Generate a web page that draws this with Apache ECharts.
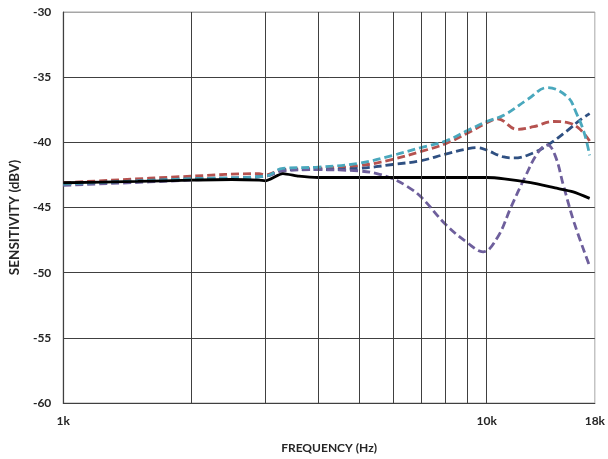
<!DOCTYPE html>
<html><head><meta charset="utf-8">
<script src="https://cdn.jsdelivr.net/npm/echarts@6/dist/echarts.min.js"></script>
<style>html,body{margin:0;padding:0;background:#fff}#c{width:608px;height:459px}</style>
</head><body><div id="c"></div>
<script>
// Data
const freqBlack = [1000, 1500, 2000, 2500, 2900, 3000, 3300, 3600, 4000, 5000, 7000, 10000, 11000, 12700, 14500, 16000, 17500];
const valBlack  = [-43.1, -43.0, -42.9, -42.85, -42.9, -42.95, -42.4, -42.6, -42.7, -42.7, -42.7, -42.7, -42.8, -43.1, -43.5, -43.8, -44.3];

const freqRed = [1000, 2000, 2900, 3000, 3300, 4000, 5000, 6000, 7000, 8000, 9000, 10000, 10600, 11800, 12900, 14400, 15600, 16600, 17500];
const valRed  = [-43.1, -42.6, -42.4, -42.5, -42.1, -42.0, -41.8, -41.3, -40.7, -40.1, -39.3, -38.5, -38.2, -39.0, -38.8, -38.4, -38.5, -39.0, -39.9];

const freqTeal = [1000, 2000, 3000, 3300, 4000, 5000, 6000, 7000, 8000, 9000, 10000, 11000, 12500, 13900, 15500, 16300, 17000, 17500];
const valTeal  = [-43.2, -42.8, -42.6, -42.0, -41.9, -41.6, -41.0, -40.4, -39.9, -39.1, -38.4, -37.9, -36.7, -35.8, -36.5, -37.8, -39.3, -41.0];

const freqNavy = [1000, 2000, 3000, 3300, 4000, 5000, 6000, 7000, 8000, 9000, 9500, 10000, 10900, 11600, 12900, 14100, 15500, 16600, 17500];
const valNavy  = [-43.2, -42.8, -42.6, -42.1, -42.1, -42.0, -41.7, -41.4, -40.9, -40.5, -40.4, -40.6, -41.1, -41.2, -40.8, -40.1, -39.1, -38.3, -37.8];

const freqPurple = [1000, 2000, 3000, 3300, 4000, 5000, 5500, 6000, 6500, 7000, 8000, 9000, 9800, 10600, 11400, 12300, 13200, 13900, 14500, 15200, 16100, 17500];
const valPurple  = [-43.3, -42.9, -42.6, -42.2, -42.1, -42.2, -42.4, -42.8, -43.4, -44.2, -46.3, -47.7, -48.4, -47.3, -45.0, -42.7, -40.8, -40.2, -41.0, -43.4, -46.2, -49.5];

const xLabelValues = [1000, 10000, 18000];
const xLabelTexts = {1000: '1k', 10000: '10k', 18000: '18k'};
const xGridValues = [2000, 3000, 4000, 5000, 6000, 7000, 8000, 9000, 10000];

const zip = (f, v) => f.map((x, i) => [x, v[i]]);
const font = 'Lato, "Open Sans", sans-serif';
const dash = [8, 4];

function dashed(name, f, v, color) {
  return {
    name, type: 'line', data: zip(f, v), showSymbol: false, smooth: 0.4,
    lineStyle: { color, width: 2.8, type: dash }, z: 3
  };
}

const chart = echarts.init(document.getElementById('c'));
chart.setOption({
  animation: false,
  grid: { left: 62, right: 10, top: 12, bottom: 56, show: true, borderColor: '#a6a6a6', borderWidth: 1 },
  xAxis: {
    type: 'log', logBase: 10, min: 1000, max: 18000,
    name: 'FREQUENCY (Hz)', nameLocation: 'middle', nameGap: 39,
    nameTextStyle: { fontFamily: font, fontWeight: 'bold', fontSize: 12, color: '#262626' },
    axisLine: { show: true, lineStyle: { color: '#404040', width: 1.2 } },
    axisTick: { show: false },
    splitLine: { show: false },
    axisLabel: {
      customValues: xLabelValues,
      formatter: v => xLabelTexts[Math.round(v)] || '',
      fontFamily: font, fontWeight: 'bold', fontSize: 12, color: '#262626', margin: 12,
      showMaxLabel: true, showMinLabel: true
    }
  },
  yAxis: {
    type: 'value', min: -60, max: -30, interval: 5,
    name: 'SENSITIVITY (dBV)', nameLocation: 'middle', nameGap: 38,
    nameTextStyle: { fontFamily: font, fontWeight: 'bold', fontSize: 13.5, color: '#262626', padding: [0, 20, 0, 0] },
    axisLine: { show: true, lineStyle: { color: '#404040', width: 1.2 } },
    axisTick: { show: false },
    splitLine: { show: true, lineStyle: { color: ['#404040','#404040','#404040','#404040','#404040','#404040','#a6a6a6'], width: 1 } },
    axisLabel: { fontFamily: font, fontWeight: 'bold', fontSize: 12, color: '#262626', margin: 12 }
  },
  series: [
    {
      name: 'grid', type: 'line', data: [], z: 1,
      markLine: {
        silent: true, symbol: 'none', label: { show: false },
        lineStyle: { color: '#404040', width: 1, type: 'solid' },
        data: xGridValues.map(x => ({ xAxis: x }))
      }
    },
    dashed('red', freqRed, valRed, '#b5524f'),
    dashed('navy', freqNavy, valNavy, '#2f5082'),
    dashed('purple', freqPurple, valPurple, '#6e5f9c'),
    dashed('teal', freqTeal, valTeal, '#4aa8bd'),
    {
      name: 'black', type: 'line', data: zip(freqBlack, valBlack), showSymbol: false, smooth: 0.2,
      lineStyle: { color: '#000', width: 2.8 }, z: 4
    }
  ]
});
</script></body></html>
